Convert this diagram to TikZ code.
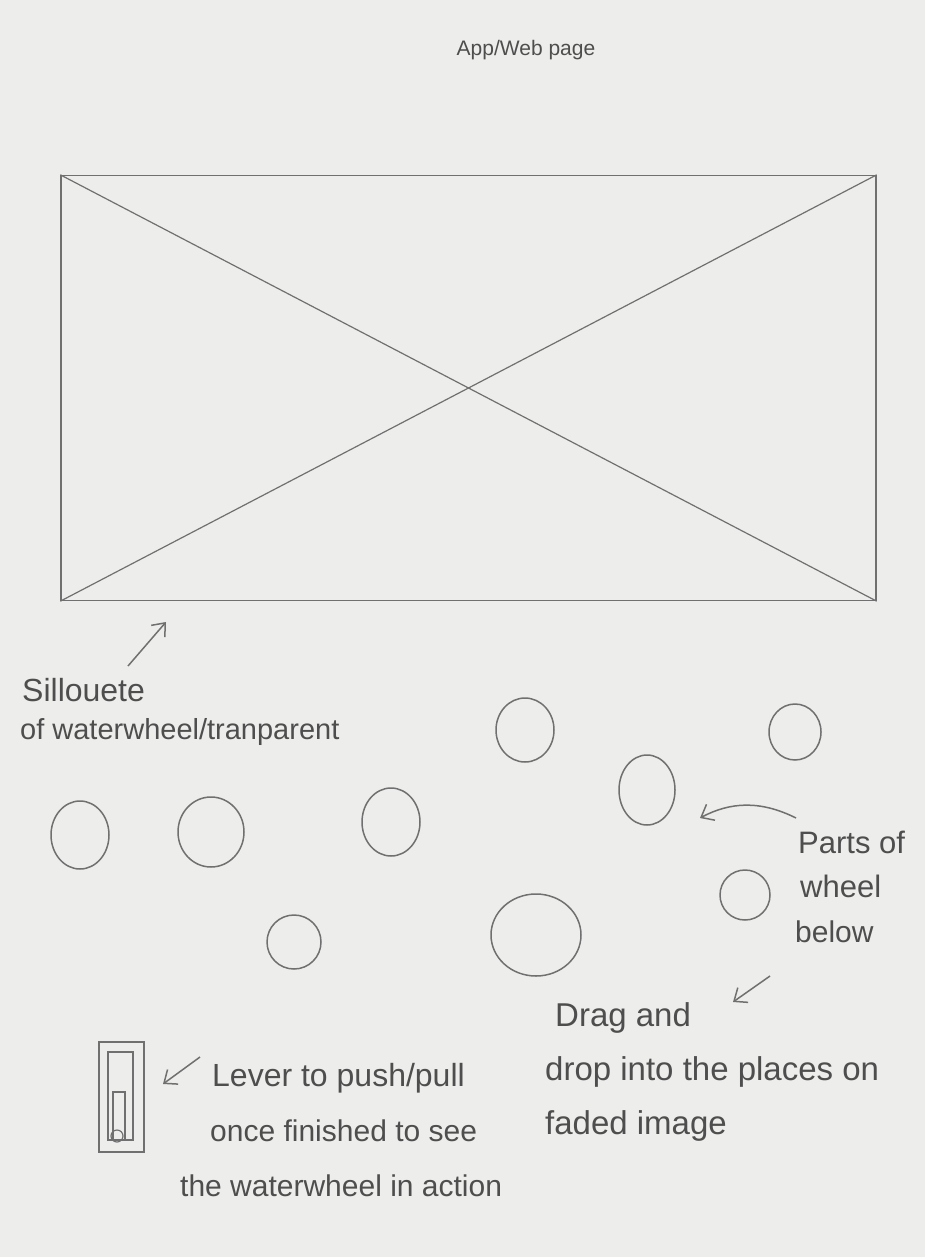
\documentclass[tikz,border=0pt]{standalone}
\usepackage{fontspec}
\setmainfont{Liberation Sans}
\usetikzlibrary{arrows.meta,shapes.geometric}
\definecolor{paper}{HTML}{EDEDEB}
\definecolor{pencil}{HTML}{707070}
\definecolor{ink}{HTML}{4E4E4E}
\tikzset{
  hand/.style={text=ink, font=\fontsize{30}{36}\selectfont, inner sep=0pt, anchor=west},
  big/.style={font=\fontsize{33}{38}\selectfont},
  ring/.style={draw=pencil, ellipse, line width=1.5pt, inner sep=0pt},
  arr/.style={draw=pencil, line width=1.5pt, -{Straight Barb[length=11pt,width=18pt]}},
  box/.style={draw=pencil, line width=1.2pt, inner sep=0pt}
}
\begin{document}
\begin{tikzpicture}[x=1pt,y=-1pt]
\fill[paper] (0,0) rectangle (925,1257);
\useasboundingbox (0,0) rectangle (925,1257);

% title
\node[hand, anchor=center, font=\fontsize{21}{26}\selectfont] (title) at (526,50) {App/Web page};

% image placeholder
\node[draw=pencil, line width=1.4pt, minimum width=815pt, minimum height=425pt, inner sep=0pt] (frame) at (468.5,388) {};
\draw[pencil, line width=1.2pt] (frame.north west) -- (frame.south east);
\draw[pencil, line width=1.2pt] (frame.south west) -- (frame.north east);

% silhouette label
\node[hand, font=\fontsize{32}{38}\selectfont] (sil1) at (22,690) {Sillouete};
\node[hand, font=\fontsize{29}{34}\selectfont] (sil2) at (20,732) {of waterwheel/tranparent};
\coordinate (silS) at (128,666);
\coordinate (silE) at (166,622);
\draw[arr] (silS) -- (silE);

% wheel parts
\node[ring, minimum width=58pt, minimum height=64pt] (c1) at (525,730) {};
\node[ring, minimum width=52pt, minimum height=56pt] (c2) at (795,732) {};
\node[ring, minimum width=56pt, minimum height=70pt] (c3) at (647,790) {};
\node[ring, minimum width=58pt, minimum height=68pt] (c4) at (80,835) {};
\node[ring, minimum width=66pt, minimum height=70pt] (c5) at (211,832) {};
\node[ring, minimum width=58pt, minimum height=68pt] (c6) at (391,822) {};
\node[ring, minimum width=50pt, minimum height=50pt] (c7) at (745,895) {};
\node[ring, minimum width=54pt, minimum height=54pt] (c8) at (294,942) {};
\node[ring, minimum width=90pt, minimum height=82pt] (c9) at (536,935) {};

% parts of wheel below
\node[hand, font=\fontsize{31}{36}\selectfont] (p1) at (798,842) {Parts of};
\node[hand, font=\fontsize{31}{36}\selectfont] (p2) at (800,886) {wheel};
\node[hand] (p3) at (795,932) {below};
\coordinate (pS) at (796,818);
\coordinate (pE) at (700,818);
\draw[arr] (pS) .. controls (760,800) and (730,802) .. (pE);
\coordinate (bS) at (770,976);
\coordinate (bE) at (733,1002);
\draw[arr] (bS) -- (bE);

% drag and drop
\node[hand, big] (d1) at (555,1018) {Drag and};
\node[hand, big] (d2) at (545,1072) {drop into the places on};
\node[hand, big] (d3) at (545,1126) {faded image};

% lever
\node[box, minimum width=45pt, minimum height=110pt] (lever) at (121.5,1097) {};
\node[box, minimum width=25pt, minimum height=88pt] (slot) at (120.5,1096) {};
\node[box, minimum width=12pt, minimum height=48pt] (handle) at (119,1116) {};
\node[draw=pencil, line width=1.2pt, circle, minimum size=12pt, inner sep=0pt] (knob) at (117,1136) {};
\node[hand, font=\fontsize{32}{38}\selectfont] (l1) at (212,1078) {Lever to push/pull};
\node[hand] (l2) at (210,1131) {once finished to see};
\node[hand] (l3) at (180,1186) {the waterwheel in action};
\coordinate (lS) at (200,1057);
\coordinate (lE) at (163,1084);
\draw[arr] (lS) -- (lE);
\end{tikzpicture}
\end{document}
